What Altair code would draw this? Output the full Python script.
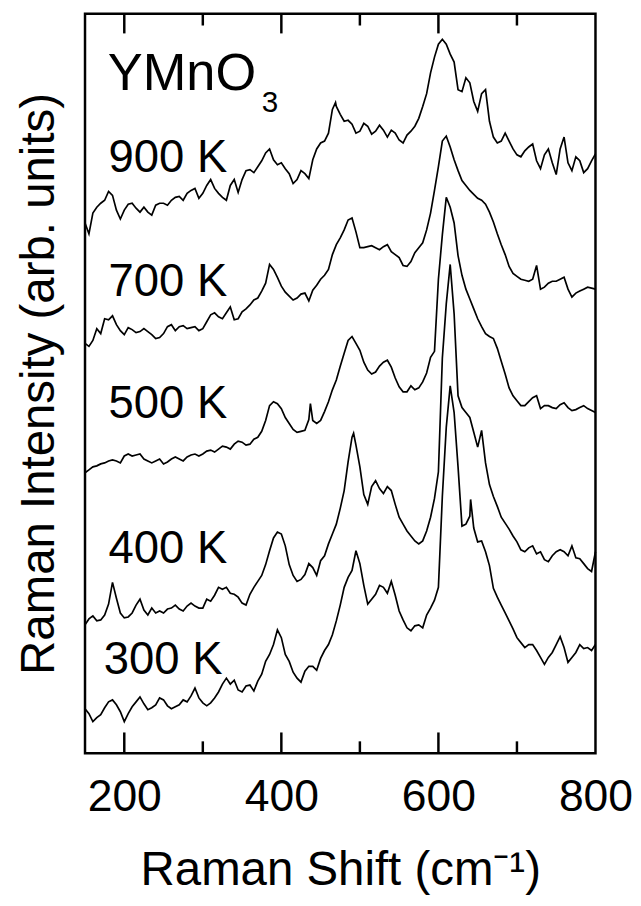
import altair as alt
import pandas as pd

# Raman shift sampling grid (cm^-1)
shift_grid = [150, 160, 170, 180, 190, 200, 210, 220, 230, 240,
              250, 260, 270, 280, 290, 300, 310, 320, 330, 340,
              350, 360, 370, 380, 390, 400, 410, 420, 430, 440,
              450, 460, 470, 480, 490, 500, 510, 520, 530, 540,
              550, 560, 570, 580, 590, 600, 610, 620, 630, 640,
              650, 660, 670, 680, 690, 700, 710, 720, 730, 740,
              750, 760, 770, 780, 790, 800]
shift_mid = [155, 165, 175, 185, 195, 205, 215, 225, 235, 245,
             255, 265, 275, 285, 295, 305, 315, 325, 335, 345,
             355, 365, 375, 385, 395, 405, 415, 425, 435, 445,
             455, 465, 475, 485, 495, 505, 515, 525, 535, 545,
             555, 565, 575, 585, 595, 605, 615, 625, 635, 645,
             655, 665, 675, 685, 695, 705, 715, 725, 735, 745,
             755, 765, 775, 785, 795]

# intensities (arb. units, offset spectra)
int_900 = [537, 547, 557, 569, 550, 550, 557, 548, 548, 555,
           557, 560, 564, 567, 572, 567, 581, 567, 560, 581,
           581, 591, 594, 608, 601, 598, 587, 581, 587, 601,
           618, 628, 655, 640, 637, 630, 635, 630, 631, 631,
           621, 626, 635, 655, 689, 718, 718, 700, 670, 679,
           650, 672, 624, 620, 620, 606, 610, 617, 592, 612,
           586, 624, 590, 600, 592, 607]
mid_900 = [526, 553, 560, 565, 541, 556, 552, 553, 545, 557,
           555, 563, 560, 570, 562, 575, 572, 563, 575, 568,
           590, 588, 600, 612, 596, 592, 577, 590, 582, 612,
           620, 652, 647, 641, 628, 638, 627, 636, 624, 628,
           618, 630, 643, 668, 705, 723, 708, 672, 684, 660,
           668, 640, 618, 628, 612, 604, 614, 600, 606, 598,
           612, 598, 604, 588, 600]

int_700 = [415, 418, 425, 439, 434, 424, 429, 427, 427, 420,
           425, 434, 432, 430, 432, 430, 444, 442, 446, 439,
           447, 454, 461, 476, 490, 473, 463, 461, 466, 469,
           480, 490, 515, 530, 542, 512, 513, 512, 513, 508,
           502, 493, 507, 517, 547, 594, 625, 601, 580, 570,
           562, 556, 538, 515, 493, 483, 479, 480, 470, 476,
           478, 482, 462, 468, 472, 470]
mid_700 = [412, 430, 440, 443, 428, 431, 426, 430, 424, 421,
           432, 428, 433, 431, 428, 437, 446, 440, 452, 440,
           450, 459, 468, 495, 482, 467, 459, 465, 458, 474,
           484, 505, 522, 540, 528, 512, 514, 510, 515, 505,
           494, 498, 512, 530, 570, 620, 614, 590, 575, 566,
           560, 548, 526, 505, 486, 480, 478, 494, 472, 478,
           480, 470, 466, 470, 471]

int_500 = [284, 290, 293, 296, 296, 301, 301, 303, 296, 296,
           293, 298, 298, 300, 303, 303, 307, 308, 310, 313,
           315, 313, 320, 337, 356, 349, 334, 325, 327, 337,
           337, 356, 378, 405, 422, 408, 388, 386, 396, 391,
           371, 366, 368, 376, 401, 480, 563, 537, 484, 460,
           440, 425, 420, 397, 370, 357, 352, 360, 349, 352,
           349, 355, 347, 350, 349, 345]
mid_500 = [287, 291, 294, 297, 294, 303, 302, 298, 294, 298,
           295, 300, 296, 302, 301, 306, 305, 311, 308, 316,
           312, 318, 326, 352, 354, 340, 328, 326, 338, 334,
           346, 368, 392, 418, 415, 396, 384, 392, 398, 380,
           366, 372, 370, 385, 407, 525, 553, 504, 470, 450,
           432, 422, 410, 384, 362, 352, 356, 362, 352, 350,
           353, 350, 348, 352, 347]

int_400 = [130, 139, 135, 151, 157, 137, 142, 156, 140, 142,
           142, 147, 146, 149, 149, 147, 154, 168, 168, 161,
           152, 161, 174, 191, 218, 222, 191, 174, 181, 188,
           195, 212, 232, 266, 320, 290, 252, 276, 263, 266,
           239, 225, 215, 215, 239, 285, 455, 445, 350, 340,
           310, 294, 260, 239, 227, 214, 204, 210, 204, 194,
           204, 204, 210, 197, 187, 204]
mid_400 = [136, 134, 140, 173, 142, 138, 150, 145, 147, 144,
           146, 150, 144, 152, 147, 156, 160, 166, 162, 158,
           150, 168, 180, 205, 224, 210, 180, 176, 192, 180,
           200, 222, 248, 295, 312, 262, 270, 268, 270, 252,
           232, 220, 212, 225, 258, 400, 495, 362, 345, 325,
           327, 272, 250, 233, 220, 206, 208, 202, 196, 200,
           206, 200, 198, 192, 184]

int_300 = [45, 32, 39, 52, 49, 32, 47, 57, 44, 49,
           54, 45, 49, 52, 66, 51, 51, 62, 76, 74,
           62, 69, 73, 93, 110, 117, 93, 76, 83, 88,
           96, 110, 134, 168, 185, 192, 151, 161, 168, 174,
           144, 127, 129, 127, 147, 168, 330, 345, 230, 240,
           214, 204, 167, 150, 134, 117, 107, 110, 97, 97,
           110, 107, 97, 110, 107, 110]
mid_300 = [40, 36, 46, 54, 42, 40, 52, 50, 46, 56,
           48, 47, 54, 58, 56, 48, 56, 70, 70, 64,
           68, 63, 80, 100, 125, 100, 82, 72, 88, 84,
           104, 120, 150, 178, 205, 170, 156, 170, 162, 160,
           135, 124, 130, 140, 155, 260, 372, 290, 232, 228,
           215, 190, 158, 142, 126, 112, 110, 104, 90, 102,
           118, 92, 102, 106, 104]

# extra readings (spikes between sampling points)
extra_shift_900 = [469]
extra_int_900 = [659]
extra_shift_700 = []
extra_int_700 = []
extra_shift_500 = [437]
extra_int_500 = [354]
extra_shift_400 = [492]
extra_int_400 = [324]
extra_shift_300 = [641]
extra_int_300 = [257]

labels = ["900 K", "700 K", "500 K", "400 K", "300 K"]
label_shift = [180, 180, 180, 180, 174]
label_int = [589, 463, 339, 193, 80]

major_ticks = [200, 400, 600]
minor_ticks = [300, 500, 700]

FONT = "Liberation Sans"


def spectrum(name, ys, mids, ex, ey):
    pts = sorted(zip(shift_grid + shift_mid + ex, ys + mids + ey))
    return pd.DataFrame({"shift": [p[0] for p in pts],
                         "intensity": [p[1] for p in pts],
                         "T": name})


df = pd.concat([
    spectrum("900 K", int_900, mid_900, extra_shift_900, extra_int_900),
    spectrum("700 K", int_700, mid_700, extra_shift_700, extra_int_700),
    spectrum("500 K", int_500, mid_500, extra_shift_500, extra_int_500),
    spectrum("400 K", int_400, mid_400, extra_shift_400, extra_int_400),
    spectrum("300 K", int_300, mid_300, extra_shift_300, extra_int_300),
], ignore_index=True)

xscale = alt.Scale(domain=[150, 800], nice=False, zero=False)
yscale = alt.Scale(domain=[0, 749], nice=False, zero=False)

lines = alt.Chart(df).mark_line(color="black", strokeWidth=1.7).encode(
    x=alt.X("shift:Q", scale=xscale,
            axis=alt.Axis(title="Raman Shift (cm⁻¹)", values=[200, 400, 600, 800],
                          ticks=False, domain=False, grid=False,
                          labelFontSize=45, labelFont=FONT, labelColor="black",
                          labelPadding=22, labelFlush=False,
                          titleFontSize=48, titleFont=FONT, titleColor="black",
                          titleFontWeight="normal", titlePadding=28)),
    y=alt.Y("intensity:Q", scale=yscale,
            axis=alt.Axis(title="Raman Intensity (arb. units)", labels=False,
                          ticks=False, domain=False, grid=False, minExtent=0,
                          titleFontSize=48, titleFont=FONT, titleColor="black",
                          titleFontWeight="normal", titlePadding=22)),
    detail="T:N",
)

maj = pd.DataFrame({"shift": major_ticks})
mnr = pd.DataFrame({"shift": minor_ticks})


def tick_layer(data, y0, y1):
    return alt.Chart(data).mark_rule(color="black", strokeWidth=2.5).encode(
        x=alt.X("shift:Q", scale=xscale),
        y=alt.value(y0), y2=alt.value(y1))


ticks = (tick_layer(maj, 749, 728) + tick_layer(mnr, 749, 737)
         + tick_layer(maj, 0, 20) + tick_layer(mnr, 0, 12))

lab_df = pd.DataFrame({"shift": label_shift, "intensity": label_int, "text": labels})
temps = alt.Chart(lab_df).mark_text(
    align="left", baseline="alphabetic", font=FONT, fontSize=46, color="black"
).encode(x=alt.X("shift:Q", scale=xscale), y=alt.Y("intensity:Q", scale=yscale),
         text="text:N")

compound = alt.Chart(pd.DataFrame({"shift": [179], "intensity": [672], "text": ["YMnO"]})).mark_text(
    align="left", baseline="alphabetic", font=FONT, fontSize=53, color="black"
).encode(x=alt.X("shift:Q", scale=xscale), y=alt.Y("intensity:Q", scale=yscale),
         text="text:N")
sub = alt.Chart(pd.DataFrame({"shift": [375], "intensity": [649], "text": ["3"]})).mark_text(
    align="left", baseline="alphabetic", font=FONT, fontSize=30, color="black"
).encode(x=alt.X("shift:Q", scale=xscale), y=alt.Y("intensity:Q", scale=yscale),
         text="text:N")

chart = alt.layer(lines, ticks, temps, compound, sub).properties(
    width=517, height=749,
    autosize=alt.AutoSizeParams(type="none"),
    padding={"left": 78, "top": 0, "right": 38, "bottom": 147},
    background="white",
).configure_view(stroke="black", strokeWidth=2.5)

chart.save("out.html", embed_options={"renderer": "svg", "actions": False})
